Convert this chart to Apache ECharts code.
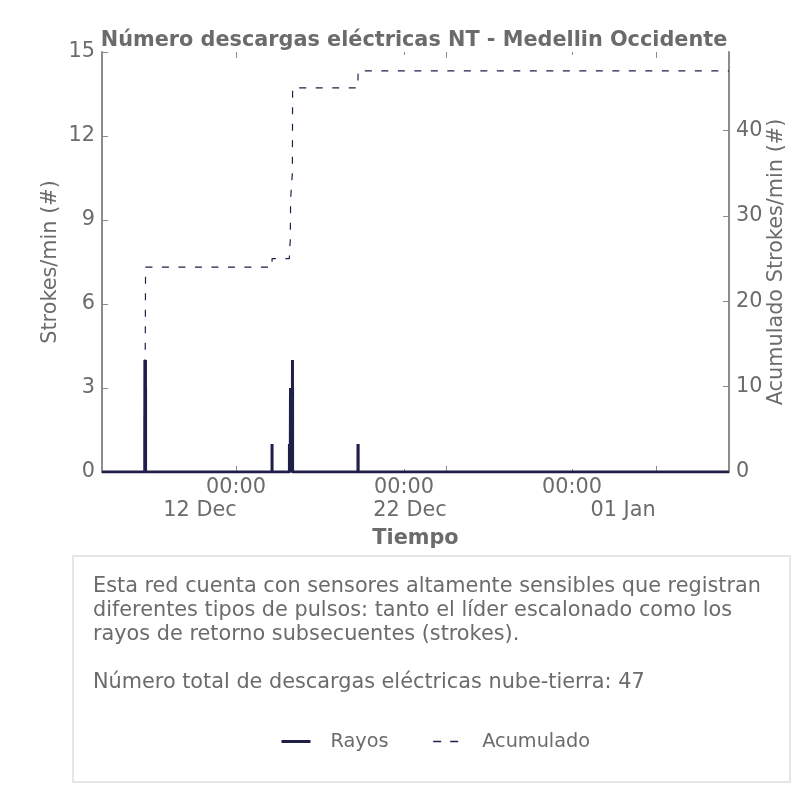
<!DOCTYPE html>
<html>
<head>
<meta charset="utf-8">
<script src="https://cdn.jsdelivr.net/npm/echarts@6/dist/echarts.min.js"></script>
<style>html,body{margin:0;padding:0;background:#fff}#c{width:806px;height:806px}</style>
</head>
<body>
<div id="c"></div>
<script>
// ---- data ----
const eventTimes = [
  '2023-12-06 13:40','2023-12-06 13:50','2023-12-06 14:00','2023-12-06 14:10',
  '2023-12-06 14:20','2023-12-06 14:30','2023-12-06 14:40','2023-12-06 14:50',
  '2023-12-14 03:30',
  '2023-12-15 04:20','2023-12-15 05:30','2023-12-15 05:50','2023-12-15 06:00',
  '2023-12-15 08:30','2023-12-15 08:40','2023-12-15 08:45','2023-12-15 08:50',
  '2023-12-19 06:15','2023-12-19 06:30'
];
const rayosValues = [2,4,3,4,1,3,4,3, 1, 1,1,3,2,3,4,3,3, 1,1];
const acumuladoValues = [2,6,9,13,14,17,21,24, 25, 26,27,30,32,35,39,42,45, 46,47];
const rangeStart = '2023-12-04 00:35';
const rangeEnd = '2024-01-10 08:15';
const labelTimes = ['2023-12-12 00:00','2023-12-22 00:00','2024-01-01 00:00'];
const labelDates = ['12 Dec','22 Dec','01 Jan'];
const longTickTimes = ['2023-12-12 00:00','2023-12-24 12:00','2024-01-06 00:00'];
const shortTickTimes = ['2023-12-22 00:00','2024-01-01 00:00'];
const rightTicks = [0,10,20,30,40];
const totalDescargas = 47;

function parse(s){
  const [d,t] = s.split(' ');
  const [y,m,dd] = d.split('-').map(Number);
  const [h,mi] = t.split(':').map(Number);
  return Date.UTC(y,m-1,dd,h,mi);
}
const MIN = 60*1000;
const tMin = parse(rangeStart), tMax = parse(rangeEnd);

const rayosData = [[tMin,0]];
eventTimes.forEach((s,i)=>{
  const t = parse(s);
  rayosData.push([t-MIN,0],[t,rayosValues[i]],[t+MIN,0]);
});
rayosData.push([tMax,0]);

const acumData = [[tMin,0]];
eventTimes.forEach((s,i)=>acumData.push([parse(s),acumuladoValues[i]]));
acumData.push([tMax,acumuladoValues[acumuladoValues.length-1]]);

const GRAY = '#6b6b6b';
const SPINE = '#8c8c8c';
const NAVY = '#1f1f47';
const FONT = 'DejaVu Sans';
const FS = 20.8;

const labelVals = labelTimes.map(parse);
function baseX(extra){
  return Object.assign({type:'value', min:tMin, max:tMax, splitLine:{show:false}, scale:true}, extra);
}
const lab = (extra)=>Object.assign({fontFamily:FONT, fontSize:FS, color:GRAY, lineHeight:23}, extra||{});

const chart = echarts.init(document.getElementById('c'), null, {renderer:'canvas'});
chart.setOption({
  animation:false,
  backgroundColor:'#fff',
  title:{
    text:'Número descargas eléctricas NT - Medellin Occidente',
    left:409, textAlign:'center', top:25,
    textStyle:{fontFamily:FONT, fontSize:FS, fontWeight:'bold', color:GRAY}
  },
  grid:{left:102, right:77, top:52, bottom:334},
  legend:{
    left:275, top:727, itemWidth:29, itemHeight:10, itemGap:44,
    itemStyle:{opacity:0},
    textStyle:{fontFamily:FONT, fontSize:FS-1.5, color:GRAY, padding:[0,0,0,15]},
    data:[
      {name:'Rayos', lineStyle:{width:3, color:NAVY, type:'solid'}},
      {name:'Acumulado', lineStyle:{width:1.3, color:NAVY, type:[8,9]}}
    ]
  },
  xAxis:[
    baseX({
      position:'bottom',
      name:'Tiempo', nameLocation:'middle', nameGap:56,
      nameTextStyle:{fontFamily:FONT, fontSize:FS, fontWeight:'bold', color:GRAY},
      axisLine:{show:true, lineStyle:{color:SPINE, width:2}},
      axisTick:{show:true, inside:true, length:6, lineStyle:{color:SPINE}, customValues:longTickTimes.map(parse)},
      axisLabel:{
        customValues:labelVals, margin:4,
        fontFamily:FONT, fontSize:FS, color:GRAY, lineHeight:23,
        formatter:function(v){
          let idx = 0, best = Infinity;
          labelVals.forEach((lv,i)=>{ if(Math.abs(lv-v)<best){best=Math.abs(lv-v);idx=i;} });
          return '{a|00:00}\n{b'+idx+'|'+labelDates[idx]+'}';
        },
        rich:{
          a:lab(),
          b0:lab({padding:[0,72,0,0]}),
          b1:lab({padding:[0,0,0,12]}),
          b2:lab({padding:[0,0,0,102]})
        }
      }
    }),
    baseX({
      position:'bottom',
      axisLine:{show:false},
      axisTick:{show:true, inside:true, length:3, lineStyle:{color:SPINE}, customValues:shortTickTimes.map(parse)},
      axisLabel:{show:false}
    }),
    baseX({
      position:'top',
      axisLine:{show:false},
      axisTick:{show:true, inside:true, length:6, lineStyle:{color:SPINE}, customValues:longTickTimes.map(parse)},
      axisLabel:{show:false}
    }),
    baseX({
      position:'top',
      axisLine:{show:false},
      axisTick:{show:true, inside:true, length:3, lineStyle:{color:SPINE}, customValues:shortTickTimes.map(parse)},
      axisLabel:{show:false}
    })
  ],
  yAxis:[
    {
      type:'value', min:0, max:15, interval:3, position:'left',
      name:'Strokes/min (#)', nameLocation:'middle', nameGap:41, nameMoveOverlap:false,
      nameTextStyle:{fontFamily:FONT, fontSize:FS, color:GRAY},
      axisLine:{show:true, lineStyle:{color:SPINE, width:2}},
      axisTick:{show:true, inside:true, length:6, lineStyle:{color:SPINE}},
      axisLabel:{fontFamily:FONT, fontSize:FS, color:GRAY, margin:7},
      splitLine:{show:false}
    },
    {
      type:'value', min:0, max:49.2, position:'right',
      name:'Acumulado Strokes/min (#)', nameLocation:'middle', nameGap:37, nameMoveOverlap:false,
      nameTextStyle:{fontFamily:FONT, fontSize:FS, color:GRAY},
      axisLine:{show:true, lineStyle:{color:SPINE, width:2}},
      axisTick:{show:true, inside:true, length:6, lineStyle:{color:SPINE}, customValues:rightTicks},
      axisLabel:{fontFamily:FONT, fontSize:FS, color:GRAY, margin:7, customValues:rightTicks},
      splitLine:{show:false}
    }
  ],
  series:[
    {
      name:'Acumulado', type:'line', xAxisIndex:0, yAxisIndex:1,
      data:acumData, step:'end', showSymbol:false, symbol:'none',
      lineStyle:{color:NAVY, width:1.2, type:[7,9.5]},
      itemStyle:{color:NAVY},
      z:2
    },
    {
      name:'Rayos', type:'line', xAxisIndex:0, yAxisIndex:0,
      data:rayosData, showSymbol:false, symbol:'none',
      lineStyle:{color:NAVY, width:3, join:'bevel'},
      itemStyle:{color:NAVY},
      z:3
    }
  ],
  graphic:[
    {
      type:'rect', left:72, top:555, z:-1,
      shape:{width:717, height:226},
      style:{fill:'#fff', stroke:'#e6e6e6', lineWidth:2}
    },
    {
      type:'text', left:93, top:575,
      style:{
        text:'Esta red cuenta con sensores altamente sensibles que registran\ndiferentes tipos de pulsos: tanto el líder escalonado como los\nrayos de retorno subsecuentes (strokes).\n\nNúmero total de descargas eléctricas nube-tierra: ' + totalDescargas,
        font:FS + 'px "DejaVu Sans"', fill:GRAY, lineHeight:24
      }
    }
  ]
});
</script>
</body>
</html>
